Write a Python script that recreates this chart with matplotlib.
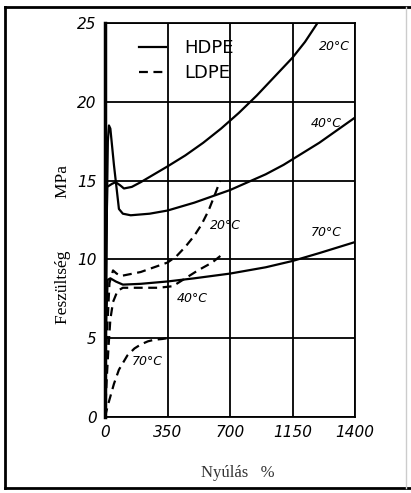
import matplotlib
matplotlib.use('Agg')
import matplotlib.pyplot as plt
from matplotlib.lines import Line2D

# strain (%) and stress (MPa)
hdpe20_x = [0, 4, 8, 12, 40, 60, 85, 106, 150, 200, 275, 350, 450, 550, 650, 750,
            850, 950, 1050, 1120, 1190]
hdpe20_y = [0, 6, 11, 14.6, 14.8, 14.9, 14.7, 14.5, 14.6, 14.9, 15.4, 15.9, 16.6, 17.4,
            18.3, 19.3, 20.4, 21.6, 22.8, 23.8, 25.0]

hdpe40_x = [0, 8, 16, 22, 30, 50, 78, 100, 144, 250, 350, 500, 600, 700, 800, 900,
            1000, 1100, 1200, 1300, 1400]
hdpe40_y = [0, 11, 17.5, 18.5, 18.3, 16.0, 13.2, 12.9, 12.8, 12.9, 13.1, 13.6, 14.0,
            14.4, 14.9, 15.4, 16.0, 16.7, 17.4, 18.2, 19.0]

hdpe70_x = [0, 6, 15, 30, 60, 100, 200, 350, 500, 700, 900, 1050, 1200, 1300, 1400]
hdpe70_y = [0, 6, 8.7, 8.8, 8.6, 8.4, 8.45, 8.6, 8.8, 9.1, 9.5, 9.9, 10.4, 10.75, 11.1]

ldpe20_x = [0, 10, 25, 45, 65, 90, 200, 300, 350, 400, 450, 500, 540, 580, 615, 645]
ldpe20_y = [0, 5, 8.5, 9.3, 9.1, 8.95, 9.2, 9.6, 9.8, 10.2, 10.8, 11.5, 12.2, 13.1,
            14.1, 15.0]

ldpe40_x = [0, 10, 20, 30, 45, 70, 100, 200, 300, 380, 450, 520, 600, 655]
ldpe40_y = [0, 2.5, 4.5, 6.2, 7.3, 8.0, 8.2, 8.2, 8.2, 8.3, 8.8, 9.3, 9.8, 10.3]

ldpe70_x = [0, 15, 30, 50, 78, 125, 165, 200, 240, 275, 320, 350]
ldpe70_y = [0, 0.7, 1.3, 2.1, 3.0, 3.9, 4.35, 4.6, 4.8, 4.9, 4.95, 5.0]

x_ticks = [0, 350, 700, 1050, 1400]
x_tick_labels = ['0', '350', '700', '1150', '1400']
y_ticks = [0, 5, 10, 15, 20, 25]

fig = plt.figure(figsize=(4.11, 4.93), dpi=100)
ax = fig.add_axes([105 / 411, 1 - 417 / 493, 250 / 411, 394 / 493])

lw = 1.6
dash = (0, (4, 2.5))
ax.plot(hdpe20_x, hdpe20_y, color='black', lw=lw, label='HDPE')
ax.plot(hdpe40_x, hdpe40_y, color='black', lw=lw)
ax.plot(hdpe70_x, hdpe70_y, color='black', lw=lw)
ax.plot(ldpe20_x, ldpe20_y, color='black', lw=lw, ls=dash, label='LDPE')
ax.plot(ldpe40_x, ldpe40_y, color='black', lw=lw, ls=dash)
ax.plot(ldpe70_x, ldpe70_y, color='black', lw=lw, ls=dash)

ax.set_xlim(0, 1400)
ax.set_ylim(0, 25)
ax.set_xticks(x_ticks)
ax.set_xticklabels(x_tick_labels)
ax.set_yticks(y_ticks)
ax.tick_params(length=0, pad=6)
for lab in ax.get_xticklabels() + ax.get_yticklabels():
    lab.set_fontstyle('italic')
    lab.set_fontsize(11)
    lab.set_family('Liberation Sans Narrow')
ax.grid(True, color='black', lw=1.3)
for s in ax.spines.values():
    s.set_linewidth(1.3)
ax.spines['left'].set_linewidth(2.5)

# curve labels
lab_kw = dict(fontsize=9, fontstyle='italic', family='Liberation Sans Narrow')
ax.text(1200, 23.3, '20°C', **lab_kw)
ax.text(1150, 18.4, '40°C', **lab_kw)
ax.text(1150, 11.5, '70°C', **lab_kw)
ax.text(590, 11.9, '20°C', **lab_kw)
ax.text(400, 7.3, '40°C', **lab_kw)
ax.text(150, 3.3, '70°C', **lab_kw)

ax.legend(loc='upper left', bbox_to_anchor=(0.07, 1.0), frameon=False,
          fontsize=13, handlelength=1.5, handletextpad=1.0, labelspacing=0.4)

fig.text(63 / 411, 1 - 244 / 493, 'Feszültség            MPa', rotation=90,
         ha='center', va='center', family='Liberation Serif', fontsize=12.5)
fig.text(238 / 411, 1 - 473 / 493, 'Nyúlás   %', ha='center', va='center',
         family='Liberation Serif', fontsize=12, color='#333333')

# outer frame of the scanned figure
fig.add_artist(Line2D([5 / 411, 411 / 411], [1 - 7 / 493, 1 - 7 / 493], color='black', lw=2))
fig.add_artist(Line2D([5 / 411, 5 / 411], [1 - 7 / 493, 1 - 488 / 493], color='black', lw=2))
fig.add_artist(Line2D([5 / 411, 411 / 411], [1 - 488 / 493, 1 - 488 / 493], color='black', lw=2))
fig.add_artist(Line2D([406 / 411, 406 / 411], [1 - 7 / 493, 1 - 488 / 493], color='#cccccc', lw=1))

fig.savefig('out.png', dpi=100)
